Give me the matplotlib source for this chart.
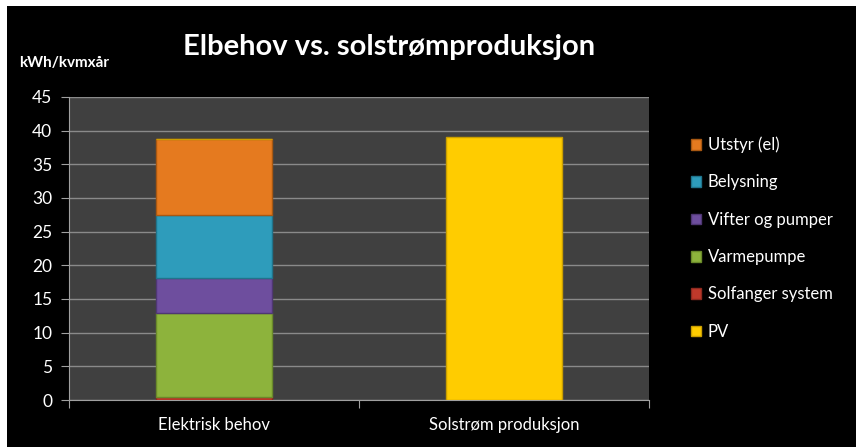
import matplotlib.pyplot as plt
from matplotlib.patches import Patch, Rectangle

plt.rcParams['font.family'] = ['Lato', 'DejaVu Sans']

categories = ['Elektrisk behov', 'Solstrøm produksjon']
series = ['Solfanger system', 'Varmepumpe', 'Vifter og pumper', 'Belysning', 'Utstyr (el)', 'PV']
colors = ['#C0392B', '#8DB33C', '#6E4E9E', '#2E9CBB', '#E57A1F', '#FFCC00']
edges = ['#8E2A20', '#6A8A2A', '#4F3773', '#20748C', '#A85812', '#C99E00']
values = {
    'Solfanger system': [0.4, 0],
    'Varmepumpe': [12.5, 0],
    'Vifter og pumper': [5.2, 0],
    'Belysning': [9.3, 0],
    'Utstyr (el)': [11.4, 0],
    'PV': [0, 39.1],
}
legend_order = ['Utstyr (el)', 'Belysning', 'Vifter og pumper', 'Varmepumpe', 'Solfanger system', 'PV']

fig = plt.figure(figsize=(8.56, 4.47), dpi=100, facecolor='white')
# black chart frame with thin white margin on top/left
fig.patches.append(Rectangle((7 / 856, 0), 1, 1 - 6 / 447, transform=fig.transFigure,
                             facecolor='black', edgecolor='none', zorder=-1))

ax = fig.add_axes([0.0806, 0.1051, 0.678, 0.678])
ax.set_zorder(2)
ax.set_facecolor('#404040')

x = range(len(categories))
bottom = [0, 0]
for s, c, e in zip(series, colors, edges):
    v = values[s]
    ax.bar(x, v, width=0.4, bottom=bottom, color=c, edgecolor=e, linewidth=1.0, zorder=3)
    bottom = [b + vi for b, vi in zip(bottom, v)]

ax.set_xlim(-0.5, 1.5)
ax.set_ylim(0, 45)
ax.set_yticks(range(0, 46, 5))
ax.yaxis.grid(True, color='#8a8a8a', linewidth=1.0, zorder=1)
ax.set_axisbelow(True)

ax.set_xticks([-0.5, 0.5, 1.5])
ax.set_xticklabels([])
ax.set_xticks(list(x), minor=True)
ax.set_xticklabels(categories, minor=True, color='white', fontsize=12)
ax.tick_params(axis='x', which='minor', length=0, pad=12)
ax.tick_params(axis='x', which='major', length=6, color='#a0a0a0', direction='out')
ax.tick_params(axis='y', length=6, color='#a0a0a0', labelcolor='white', labelsize=12.5, pad=6)

for side in ['top', 'right']:
    ax.spines[side].set_visible(False)
for side in ['left', 'bottom']:
    ax.spines[side].set_color('#a0a0a0')

fig.text(0.455, 0.895, 'Elbehov vs. solstrømproduksjon', color='white', fontsize=21,
         fontweight='bold', ha='center', va='center')
fig.text(0.022, 0.858, 'kWh/kvmxår', color='white', fontsize=11, fontweight='bold',
         ha='left', va='center')

idx = [series.index(s) for s in legend_order]
handles = [Patch(facecolor=colors[i], edgecolor=edges[i]) for i in idx]
leg = fig.legend(handles, legend_order, loc='upper left', bbox_to_anchor=(0.79, 0.728),
                 frameon=False, labelcolor='white', fontsize=12, handlelength=0.6,
                 handleheight=0.6, handletextpad=0.4, labelspacing=1.28)
leg.set_zorder(3)

fig.savefig('out.png', dpi=100, facecolor=fig.get_facecolor())
